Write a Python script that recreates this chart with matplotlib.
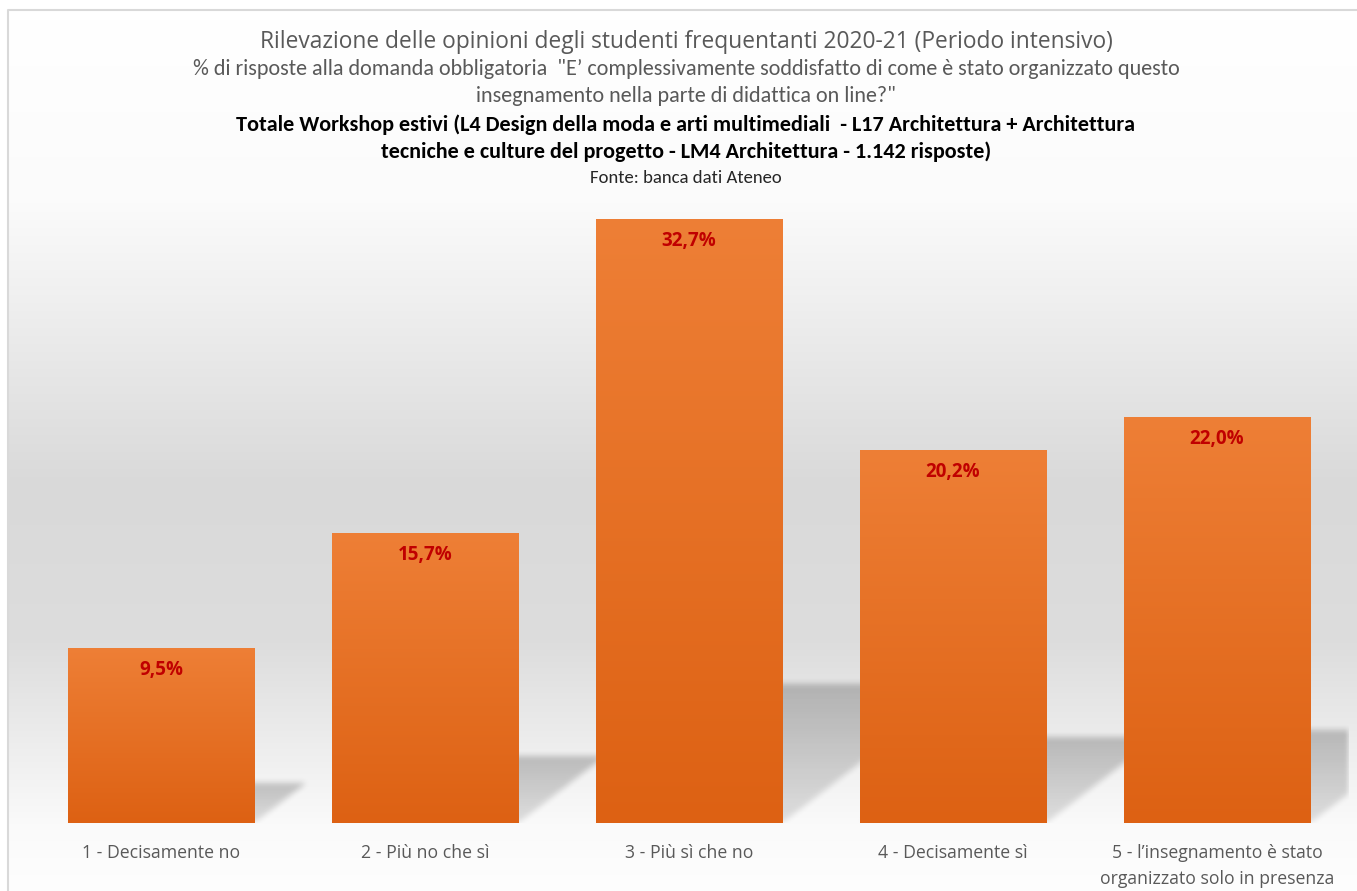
import matplotlib
matplotlib.use("Agg")
import matplotlib.pyplot as plt
import numpy as np
from matplotlib import font_manager

# dati
categorie = ["1 - Decisamente no", "2 - Più no che sì", "3 - Più sì che no",
             "4 - Decisamente sì", "5 - l’insegnamento è stato\norganizzato solo in presenza"]
valori = [9.5, 15.7, 32.7, 20.2, 22.0]
etichette = ["9,5%", "15,7%", "32,7%", "20,2%", "22,0%"]

titolo1 = "Rilevazione delle opinioni degli studenti frequentanti 2020-21 (Periodo intensivo)"
titolo2 = "% di risposte alla domanda obbligatoria  \"E’ complessivamente soddisfatto di come è stato organizzato questo"
titolo3 = "insegnamento nella parte di didattica on line?\""
titolo4 = "Totale Workshop estivi (L4 Design della moda e arti multimediali  - L17 Architettura + Architettura"
titolo5 = "tecniche e culture del progetto - LM4 Architettura - 1.142 risposte)"
fonte = "Fonte: banca dati Ateneo"

nomi = {f.name for f in font_manager.fontManager.ttflist}
def primo(*fam):
    for f in fam:
        if f in nomi:
            return f
    return "DejaVu Sans"

font_main = primo("Open Sans", "Noto Sans", "DejaVu Sans")
font_narrow = primo("Carlito", "Liberation Sans Narrow", "Open Sans")

W, H = 1357, 891
fig = plt.figure(figsize=(W / 100, H / 100), dpi=100)

# sfondo con sfumatura
bg = fig.add_axes([0, 0, 1, 1], zorder=-10)
ys = np.arange(H)
grigio = np.interp(ys, [10, 195, 480, 640, 823, 891], [255, 251, 217, 221, 250, 254])
img = np.repeat(grigio[:, None], 2, axis=1) / 255.0
bg.imshow(np.dstack([img, img, img]), extent=(8, W, H, 10), aspect="auto")
bg.plot([8, 8, W], [H, 10, 10], color="#d9d9d9", lw=1.5)
bg.set_xlim(0, W)
bg.set_ylim(H, 0)
bg.axis("off")

ax_w, ax_h = 1320, 823 - 176.5
ax = fig.add_axes([29 / W, (H - 823) / H, ax_w / W, ax_h / H])
ax.set_facecolor("none")
x = np.arange(len(valori))
larghezza = 0.705
ymax = 35
xlim = (-0.5, len(valori) - 0.5)

# ombre prospettiche (sfocate)
nx, ny = int(ax_w), int(round(ax_h))
gx = xlim[0] + (np.arange(nx) + 0.5) / nx * (xlim[1] - xlim[0])
gy = (np.arange(ny) + 0.5) / ny * ymax
GX, GY = np.meshgrid(gx, gy)
alfa = np.zeros((ny, nx))
ypx = ax_h / ymax
xpx = ax_w / (xlim[1] - xlim[0])
for xi, v in zip(x, valori):
    sh = 0.23 * v
    dx = 1.3 * sh * ypx / xpx
    x0, x1 = xi - larghezza / 2, xi + larghezza / 2
    f = np.clip(GY / sh, 0, 1)
    m = (GY <= sh) & (GX >= x0 + dx * f) & (GX <= x1 + dx * f)
    alfa = np.maximum(alfa, np.where(m, 0.11 + 0.11 * f, 0))

def sfoca(a, r):
    k = np.ones(2 * r + 1) / (2 * r + 1)
    a = np.apply_along_axis(lambda s: np.convolve(s, k, mode="same"), 0, a)
    return np.apply_along_axis(lambda s: np.convolve(s, k, mode="same"), 1, a)

alfa = sfoca(sfoca(alfa, 3), 3)
ombra = np.zeros((ny, nx, 4))
ombra[..., 3] = alfa
ax.imshow(ombra, extent=(xlim[0], xlim[1], 0, ymax), origin="lower",
          aspect="auto", zorder=1, interpolation="bilinear")

# barre con sfumatura arancione
barre = ax.bar(x, valori, width=larghezza, color="none", zorder=2)
top = np.array([238, 127, 54]) / 255
bot = np.array([221, 97, 19]) / 255
t = np.linspace(0, 1, 256)[:, None]
grad = (top * (1 - t) + bot * t)[:, None, :]
for b in barre:
    im = ax.imshow(grad, extent=(b.get_x(), b.get_x() + b.get_width(), 0, b.get_height()),
                   aspect="auto", zorder=3, origin="upper")
    im.set_clip_path(b)

for xi, v, lab in zip(x, valori, etichette):
    ax.annotate(lab, (xi, v), xytext=(0, -22), textcoords="offset pixels",
                ha="center", va="center", color="#c00000", fontsize=13.5,
                fontweight="bold", family=font_main, zorder=5)

ax.set_xlim(*xlim)
ax.set_ylim(0, ymax)
ax.set_xticks(x)
ax.set_xticklabels(categorie, family=font_main, fontsize=12.7, color="#595959",
                   linespacing=1.6)
ax.tick_params(axis="x", length=0, pad=15)
ax.set_yticks([])
for s in ax.spines.values():
    s.set_visible(False)

def riga(y, testo, **kw):
    fig.text(0.5055, 1 - y / H, testo, ha="center", va="center", **kw)

riga(42, titolo1, family=font_main, fontsize=16.4, color="#595959")
riga(69, titolo2, family=font_narrow, fontsize=15.9, color="#595959")
riga(96, titolo3, family=font_narrow, fontsize=15.9, color="#595959")
riga(125, titolo4, family=font_narrow, fontsize=15.9, color="black", fontweight="bold")
riga(152, titolo5, family=font_narrow, fontsize=15.9, color="black", fontweight="bold")
riga(178, fonte, family=font_narrow, fontsize=13.5, color="#262626")

fig.savefig("out.png", dpi=100)
